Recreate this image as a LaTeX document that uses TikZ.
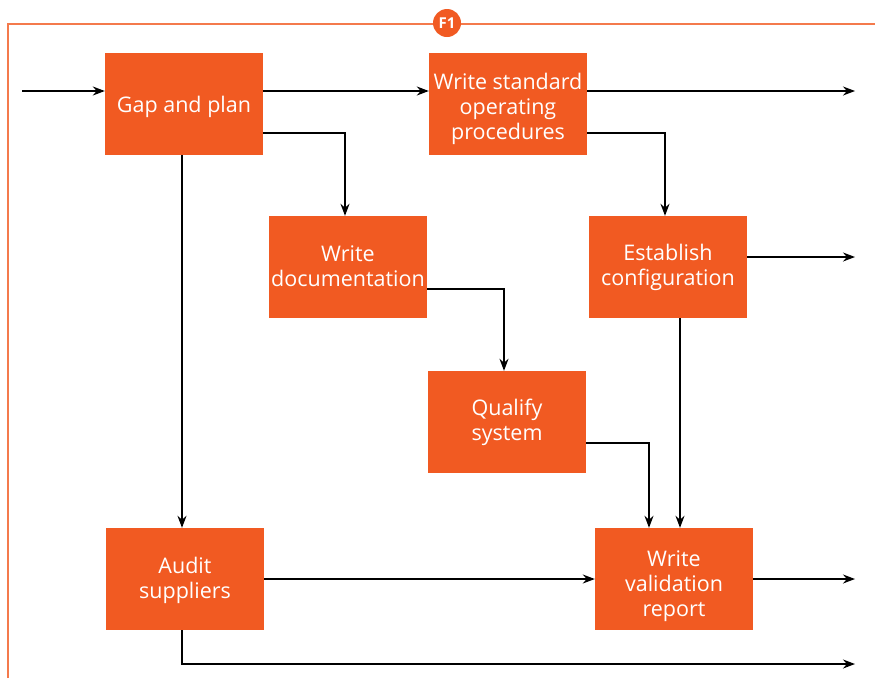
\documentclass[tikz,border=0pt]{standalone}
\usepackage{fontspec}
\setmainfont{Open Sans}
\usetikzlibrary{arrows.meta}
\definecolor{boxorange}{HTML}{F15A22}
\definecolor{frameorange}{HTML}{F47A4C}
\tikzset{
  box/.style={fill=boxorange, draw=none, minimum width=158pt, minimum height=102pt, inner sep=0pt},
  txt/.style={text=white, align=center, inner sep=0pt,
    font=\fontsize{21.5pt}{25pt}\selectfont},
  arr/.style={draw=black, line width=1.3pt, -{Stealth[length=12pt,width=9pt]}},
  ln/.style={draw=black, line width=1.3pt}
}
\begin{document}
\begin{tikzpicture}[x=1pt,y=-1pt]
\useasboundingbox (0,0) rectangle (875,678);
% frame
\draw[frameorange, line width=1.4pt] (8,678) -- (8,24) -- (875,24);
\node[circle, fill=boxorange, minimum size=28pt, inner sep=0pt, text=white,
  font=\fontsize{15pt}{15pt}\selectfont\bfseries] (badge) at (447,23) {F1};
% boxes
\node[box] (gap) at (184,104) {};
\node[box] (sop) at (508,104) {};
\node[box] (wdoc) at (348,267) {};
\node[box] (est) at (668,267) {};
\node[box] (qual) at (507,422) {};
\node[box] (aud) at (185,579) {};
\node[box] (rep) at (674,579) {};
% texts
\node[txt] (gapt) at ([yshift=-3pt]gap.center) {Gap and plan};
\node[txt] (sopt) at ([yshift=-5pt]sop.center) {Write standard\\operating\\procedures};
\node[txt] (wdoct) at ([yshift=1pt]wdoc.center) {Write\\documentation};
\node[txt] (estt) at ([yshift=0pt]est.center) {Establish\\configuration};
\node[txt] (qualt) at ([yshift=0pt]qual.center) {Qualify\\system};
\node[txt] (audt) at ([yshift=-1pt]aud.center) {Audit\\suppliers};
\node[txt] (rept) at ([yshift=-7pt]rep.center) {Write\\validation\\report};
% free ends
\coordinate (in1) at (22,91);
\coordinate (out1) at (855,91);
\coordinate (out2) at (855,257);
\coordinate (out3) at (855,580);
\coordinate (out4) at (855,664);
% connectors
\draw[arr] (in1) -- (in1 -| gap.west);
\draw[arr] ([yshift=13pt]gap.east) -- ([yshift=13pt]sop.west);
\draw[arr] ([yshift=13pt]sop.east) -- (out1);
\draw[arr] ([yshift=-29pt]gap.east) -| ([xshift=-3pt]wdoc.north);
\draw[arr] ([xshift=-2pt]gap.south) -- ([xshift=-2pt]gap.south |- aud.north);
\draw[arr] ([yshift=-29pt]sop.east) -| ([xshift=-3pt]est.north);
\draw[arr] ([yshift=10pt]est.east) -- (out2);
\draw[arr] ([yshift=-22pt]wdoc.east) -| ([xshift=-3pt]qual.north);
\draw[arr] ([yshift=-21pt]qual.east) -| ([xshift=-25pt]rep.north);
\draw[arr] ([xshift=12pt]est.south) -- ([xshift=12pt]est.south |- rep.north);
\draw[arr] (aud.east) -- (rep.west);
\draw[arr] (rep.east -| rep.east) -- (rep.east -| out3);
\draw[arr] ([xshift=-3pt]aud.south) |- (out4);
\end{tikzpicture}
\end{document}
